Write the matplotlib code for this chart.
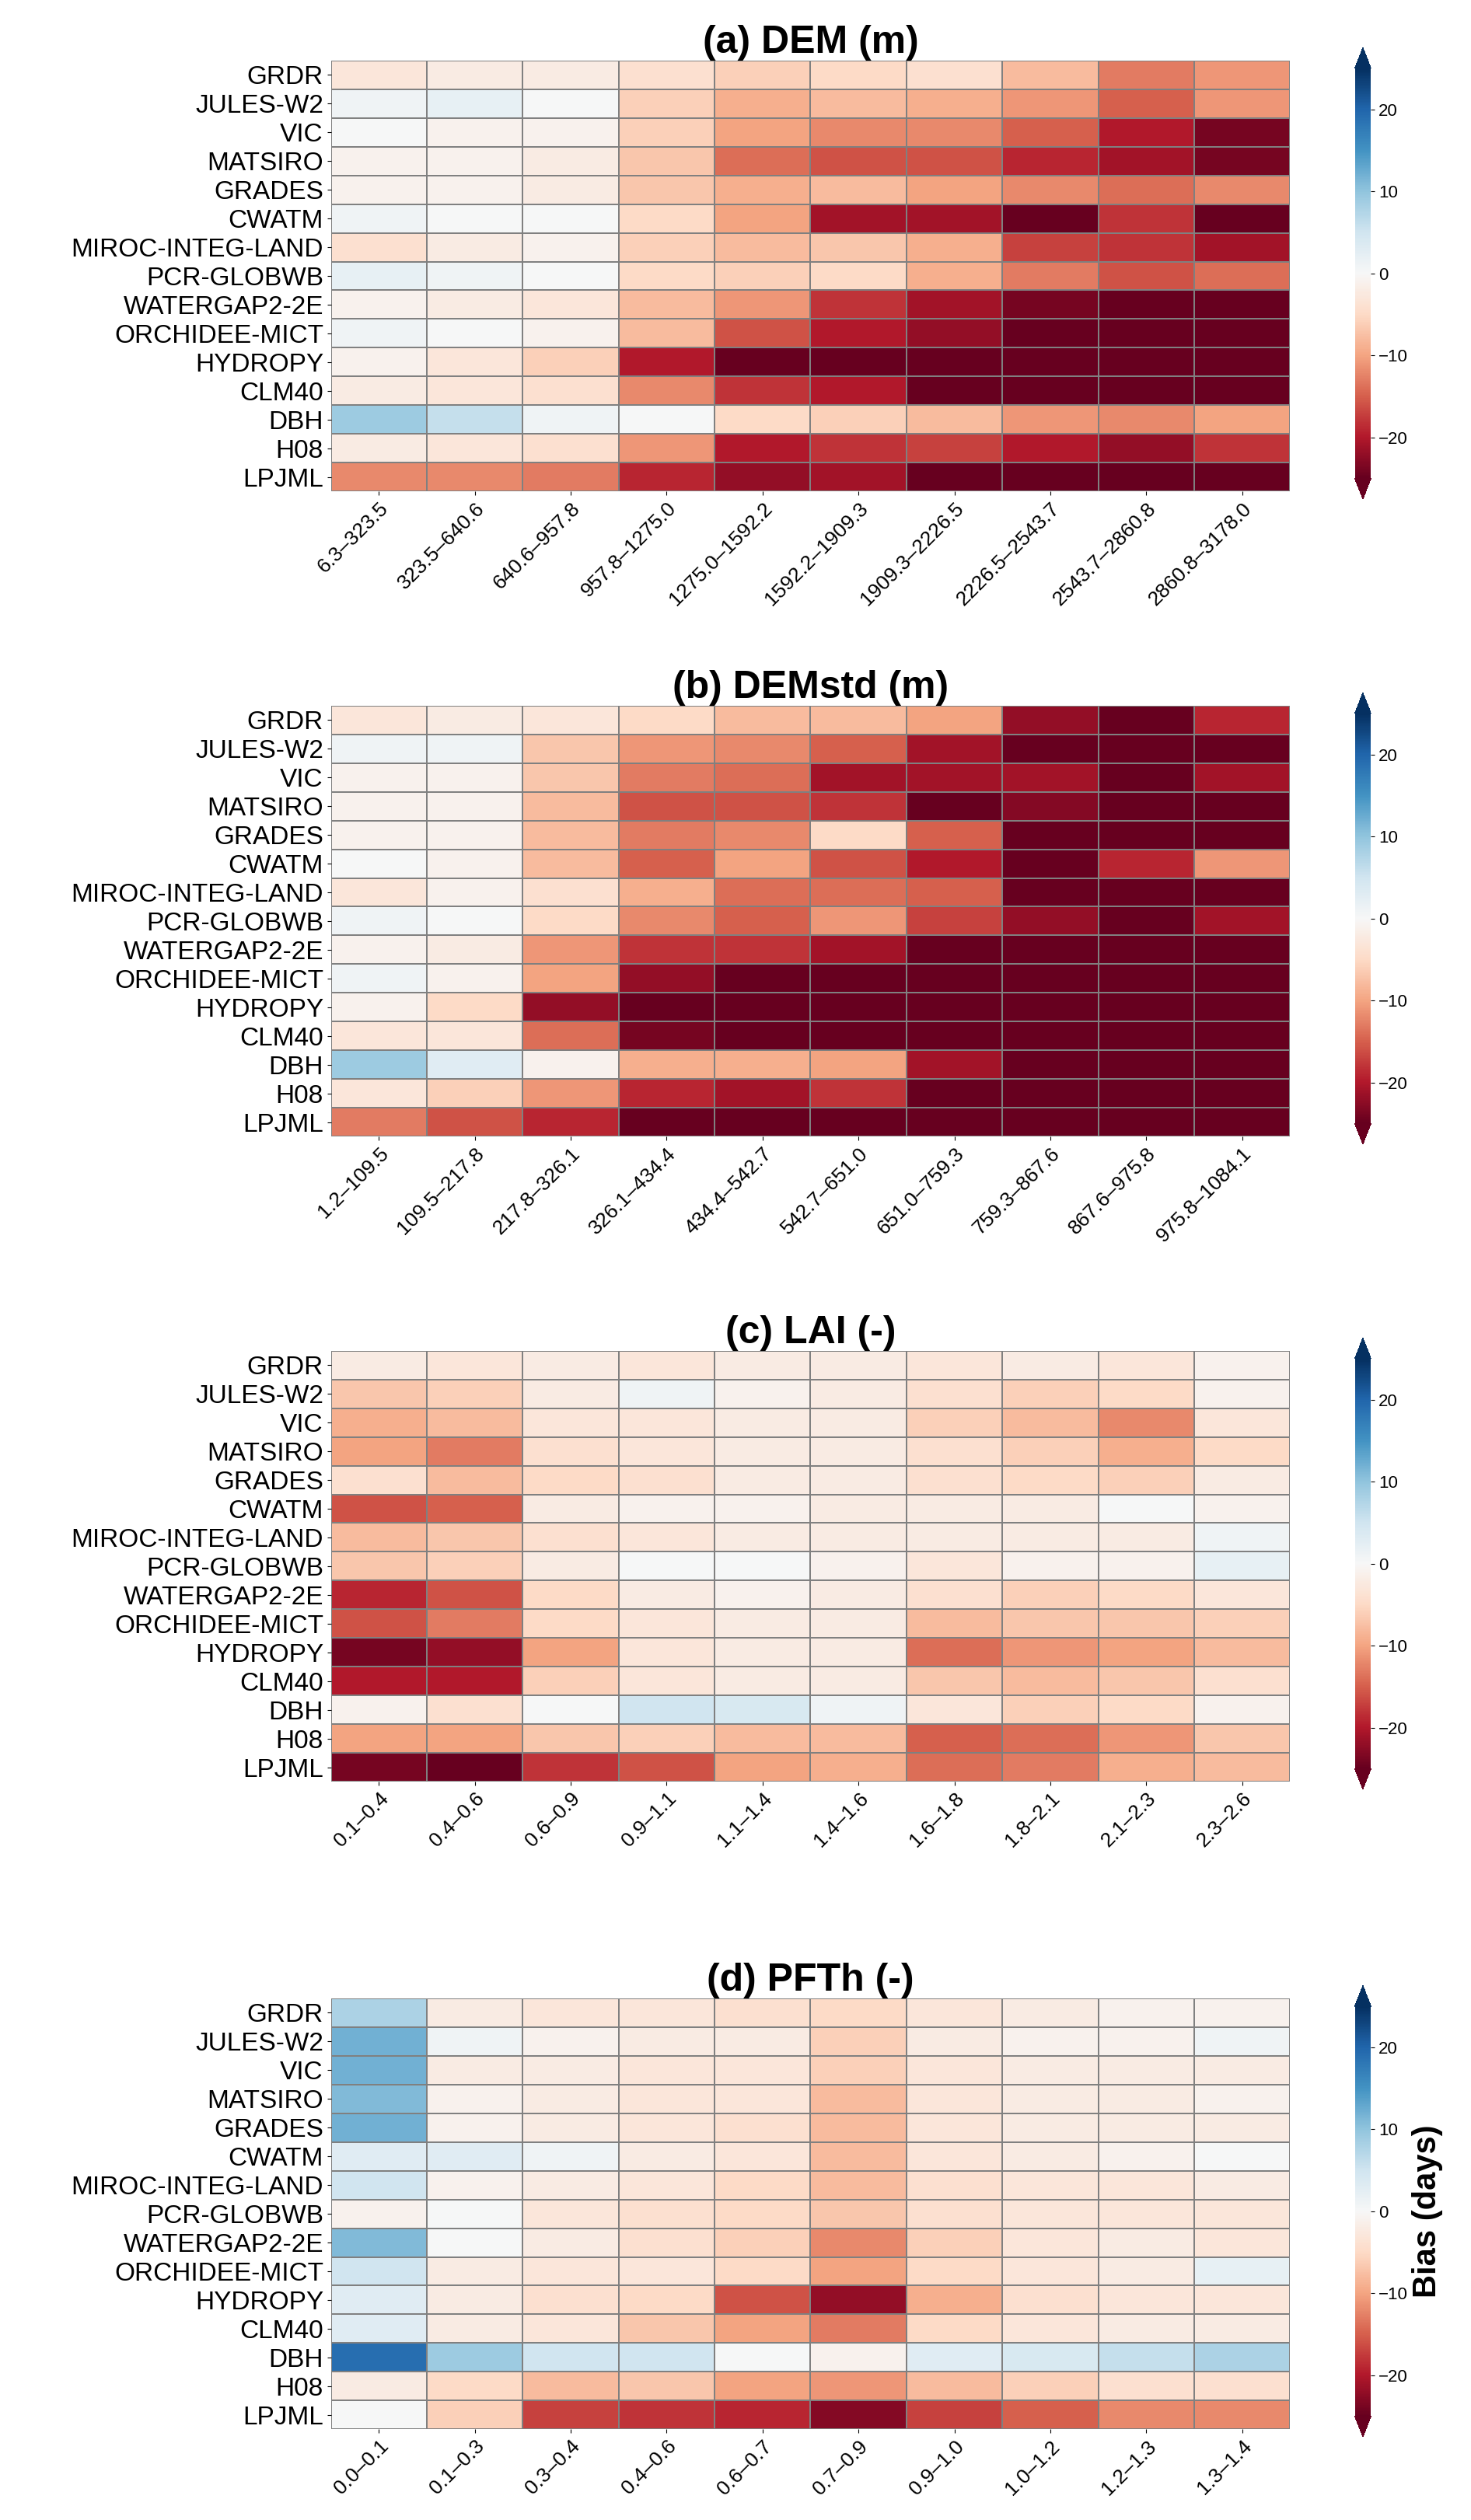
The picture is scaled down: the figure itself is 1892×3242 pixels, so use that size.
import numpy as np
import matplotlib.pyplot as plt

plt.rcParams['font.family'] = ['Arial', 'Liberation Sans', 'DejaVu Sans']

models = ['GRDR', 'JULES-W2', 'VIC', 'MATSIRO', 'GRADES', 'CWATM', 'MIROC-INTEG-LAND',
          'PCR-GLOBWB', 'WATERGAP2-2E', 'ORCHIDEE-MICT', 'HYDROPY', 'CLM40', 'DBH', 'H08', 'LPJML']

dem_bins = ['6.3–323.5', '323.5–640.6', '640.6–957.8', '957.8–1275.0', '1275.0–1592.2',
            '1592.2–1909.3', '1909.3–2226.5', '2226.5–2543.7', '2543.7–2860.8', '2860.8–3178.0']
demstd_bins = ['1.2–109.5', '109.5–217.8', '217.8–326.1', '326.1–434.4', '434.4–542.7',
               '542.7–651.0', '651.0–759.3', '759.3–867.6', '867.6–975.8', '975.8–1084.1']
lai_bins = ['0.1–0.4', '0.4–0.6', '0.6–0.9', '0.9–1.1', '1.1–1.4',
            '1.4–1.6', '1.6–1.8', '1.8–2.1', '2.1–2.3', '2.3–2.6']
pfth_bins = ['0.0–0.1', '0.1–0.3', '0.3–0.4', '0.4–0.6', '0.6–0.7',
             '0.7–0.9', '0.9–1.0', '1.0–1.2', '1.2–1.3', '1.3–1.4']

dem = [
    [-3, -2, -2, -4, -6, -5, -4, -8, -13, -11],
    [1, 2, 0, -6, -9, -8, -9, -11, -15, -11],
    [0, -1, -1, -6, -10, -12, -12, -15, -20, -24],
    [-1, -1, -2, -7, -14, -16, -16, -19, -21, -24],
    [-1, -1, -2, -7, -9, -8, -10, -12, -14, -12],
    [1, 0, 0, -5, -10, -21, -21, -26, -18, -25],
    [-4, -2, -1, -6, -8, -7, -9, -17, -18, -21],
    [2, 1, 0, -5, -6, -5, -9, -13, -16, -14],
    [-1, -2, -3, -8, -11, -18, -21, -24, -26, -25],
    [1, 0, -1, -8, -16, -20, -22, -26, -26, -26],
    [-1, -3, -6, -20, -27, -26, -26, -27, -27, -27],
    [-2, -3, -4, -12, -18, -20, -26, -26, -26, -26],
    [9, 6, 1, 0, -5, -6, -8, -11, -12, -10],
    [-2, -3, -4, -11, -20, -18, -17, -20, -22, -18],
    [-12, -12, -13, -19, -22, -21, -26, -25, -26, -26],
]
demstd = [
    [-3, -2, -3, -5, -8, -8, -10, -22, -26, -19],
    [1, 1, -7, -11, -12, -15, -21, -26, -26, -26],
    [-1, -1, -7, -13, -14, -21, -21, -21, -26, -21],
    [-1, -1, -8, -16, -16, -18, -26, -23, -26, -26],
    [-1, -1, -8, -13, -12, -5, -15, -26, -26, -26],
    [0, -1, -8, -15, -10, -16, -20, -26, -19, -11],
    [-3, -1, -4, -9, -14, -14, -15, -26, -26, -26],
    [1, 0, -5, -12, -15, -11, -17, -22, -26, -21],
    [-1, -2, -11, -18, -18, -21, -25, -25, -26, -26],
    [1, -1, -10, -22, -26, -26, -26, -26, -26, -26],
    [-1, -5, -22, -26, -26, -26, -26, -26, -26, -26],
    [-3, -3, -14, -24, -26, -26, -26, -26, -26, -26],
    [9, 3, -1, -9, -9, -10, -21, -26, -26, -26],
    [-3, -6, -11, -19, -21, -18, -26, -26, -26, -26],
    [-13, -16, -19, -26, -26, -26, -26, -26, -26, -26],
]
lai = [
    [-2, -3, -2, -3, -2, -2, -3, -2, -3, -1],
    [-7, -6, -2, 1, -1, -2, -4, -6, -5, -1],
    [-9, -8, -3, -3, -2, -2, -6, -8, -12, -3],
    [-10, -13, -4, -3, -2, -2, -4, -6, -9, -5],
    [-4, -8, -5, -4, -2, -2, -4, -5, -6, -2],
    [-16, -15, -2, -1, -1, -2, -2, -2, 0, -1],
    [-8, -7, -4, -3, -2, -2, -2, -2, -2, 1],
    [-7, -6, -2, 0, 0, -1, -3, -1, -1, 2],
    [-19, -16, -5, -2, -1, -2, -4, -6, -5, -3],
    [-16, -13, -5, -3, -2, -2, -8, -7, -7, -6],
    [-24, -22, -10, -3, -2, -2, -14, -11, -10, -8],
    [-20, -20, -6, -3, -2, -2, -7, -8, -7, -4],
    [-1, -4, 0, 5, 4, 1, -3, -6, -5, -1],
    [-10, -10, -7, -6, -8, -8, -15, -14, -11, -7],
    [-24, -27, -18, -16, -10, -9, -14, -13, -9, -8],
]
pfth = [
    [8, -2, -3, -3, -4, -5, -3, -2, -1, -1],
    [12, 1, -1, -2, -2, -6, -2, -1, -1, 1],
    [12, -2, -2, -3, -3, -6, -3, -2, -2, -2],
    [11, -1, -2, -3, -3, -8, -3, -2, -2, -1],
    [12, -1, -2, -3, -4, -8, -3, -2, -2, -2],
    [3, 3, 1, -2, -3, -8, -3, -2, -1, 0],
    [5, -1, -2, -3, -5, -8, -4, -3, -3, -2],
    [-1, 0, -3, -4, -5, -7, -4, -3, -3, -3],
    [11, 0, -2, -4, -6, -12, -6, -3, -2, -3],
    [5, -2, -3, -3, -5, -10, -5, -3, -2, 2],
    [3, -2, -4, -5, -16, -22, -9, -4, -3, -3],
    [3, -2, -3, -7, -10, -13, -5, -3, -2, -2],
    [19, 9, 5, 5, 0, -1, 3, 4, 6, 8],
    [-2, -5, -8, -7, -10, -11, -8, -6, -4, -4],
    [0, -6, -17, -18, -19, -23, -17, -15, -12, -12],
]

panels = [
    ('(a) DEM (m)', dem, dem_bins),
    ('(b) DEMstd (m)', demstd, demstd_bins),
    ('(c) LAI (-)', lai, lai_bins),
    ('(d) PFTh (-)', pfth, pfth_bins),
]
tops = [0.976, 0.720, 0.464, 0.207]
h = 0.171

fig = plt.figure(figsize=(18.92, 32.42), dpi=100)
for i, (title, data, bins) in enumerate(panels):
    ax = fig.add_axes([0.225, tops[i] - h, 0.652, h])
    cax = fig.add_axes([0.921, tops[i] - h - 0.003, 0.011, h + 0.008])
    arr = np.array(data, dtype=float)
    m = ax.pcolormesh(arr, cmap='RdBu', vmin=-25, vmax=25, edgecolors='grey', linewidth=1.2)
    ax.set_xlim(0, arr.shape[1])
    ax.set_ylim(arr.shape[0], 0)
    ax.set_yticks(np.arange(len(models)) + 0.5)
    ax.set_yticklabels(models, fontsize=24)
    ax.set_xticks(np.arange(len(bins)) + 0.5)
    ax.set_xticklabels(bins, rotation=45, ha='right', rotation_mode='anchor', fontsize=19)
    for s in ax.spines.values():
        s.set_visible(False)
    ax.set_title(title, fontsize=36, fontweight='bold', pad=6)
    cb = fig.colorbar(m, cax=cax, extend='both', ticks=[-20, -10, 0, 10, 20])
    cb.ax.tick_params(labelsize=16)
    cb.outline.set_visible(False)
    if i == 3:
        cb.set_label('Bias (days)', fontsize=30, fontweight='bold')

fig.savefig('out.png', dpi=100)
